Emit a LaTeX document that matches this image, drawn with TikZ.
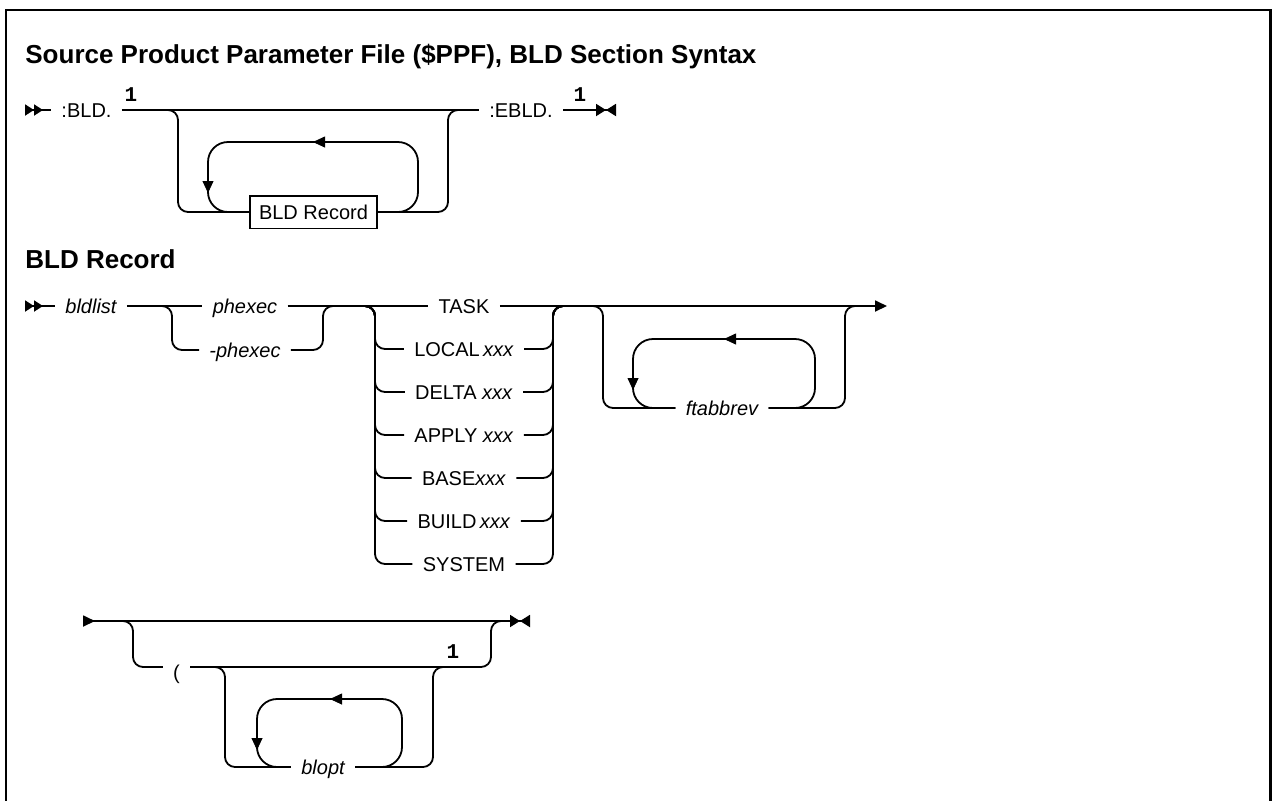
\documentclass[tikz,border=0pt]{standalone}
\usepackage{fontspec}
\setmainfont{Liberation Sans}
\setmonofont{Liberation Mono}
\usetikzlibrary{arrows.meta, positioning}

\tikzset{
    rail/.style={line width=0.9pt, rounded corners=5pt},
    loopline/.style={line width=0.9pt, rounded corners=10pt},
    kw/.style={font=\fontsize{10}{12}\selectfont, inner xsep=5pt, inner ysep=0pt, text height=7.2pt, text depth=0pt},
    var/.style={kw, font=\fontsize{10}{12}\selectfont\itshape},
    boxed/.style={kw, draw, line width=0.9pt, inner xsep=4.5pt, inner ysep=4.6pt},
    note/.style={font=\ttfamily\bfseries\fontsize{10.5}{12}\selectfont, inner sep=0pt},
    heading/.style={font=\bfseries\fontsize{13}{15}\selectfont, inner sep=0pt, anchor=base west},
    tip/.style={-{Triangle[length=6pt, width=5.5pt]}},
    dbl/.style={{Triangle[reversed, length=4.5pt, width=5.5pt]Triangle[reversed, length=4.5pt, width=5.5pt]}-},
    endmark/.style={-{Triangle[length=5pt, width=6pt]Triangle[reversed, length=5pt, width=6pt]}},
    fragment/.style={{Triangle[reversed, length=6pt, width=5.5pt]}-{Triangle[length=5pt, width=6pt]Triangle[reversed, length=5pt, width=6pt]}}
}

\begin{document}
\begin{tikzpicture}[x=0.5pt, y=-0.5pt, node distance=21.5pt, on grid]

    \useasboundingbox (0,0) rectangle (1273,800);
    \draw[line width=1.1pt] (6,10) rectangle (1270.5,830);

    % Section syntax
    \node[heading] (title) at (25,63) {Source Product Parameter File (\$PPF), BLD Section Syntax};

    \node[kw] (bld) at (86.5,110) {:BLD.};
    \node[kw] (ebld) at (521,110) {:EBLD.};
    \node[boxed] (rec) at (313.5,212) {BLD Record};
    \node[note] (n1) at (131,95) {1};
    \node[note] (n2) at (580,95) {1};

    \draw[rail, dbl] (25,110) -- (bld.west);
    \draw[rail] (bld.east) -- (ebld.west);
    \draw[rail, endmark] (ebld.east) -- (616,110);
    \draw[rail] (168,110) -- (178,110) |- (rec.west);
    \draw[rail] (rec.east) -| (448,110) -- (458,110);
    \draw[loopline] (rec.east) -| (418,142) -- (208,142) |- (rec.west);
    \draw[tip] (325,142) -- (313,142);
    \draw[tip] (208,181) -- (208,193);

    % BLD Record
    \node[heading] (rectitle) at (25,268) {BLD Record};

    \node[var] (bldlist) at (91,306) {bldlist};
    \node[var] (phexec) at (245,306) {phexec};
    \node[var, below=22pt of phexec] (nphexec) {-phexec};
    \draw[rail, dbl] (25,306) -- (bldlist.west);
    \draw[rail] (bldlist.east) -- (phexec.west);
    \draw[rail] (162,306) -- (172,306) |- (nphexec.west);
    \draw[rail] (nphexec.east) -| (323,306) -- (333,306);

    \node[kw] (task) at (464,306) {TASK};
    \node[kw, below=of task] (local) {LOCAL\,\textit{xxx}};
    \node[kw, below=of local] (delta) {DELTA \textit{xxx}};
    \node[kw, below=of delta] (apply) {APPLY \textit{xxx}};
    \node[kw, below=of apply] (base) {BASE\textit{xxx}};
    \node[kw, below=of base] (build) {BUILD\,\textit{xxx}};
    \node[kw, below=of build] (system) {SYSTEM};
    \draw[rail] (phexec.east) -- (task.west);
    \foreach \opt in {local,delta,apply,base,build,system} {
        \draw[rail] (365,306) -- (375,306) |- (\opt.west);
        \draw[rail] (\opt.east) -| (553,306) -- (563,306);
    }

    \node[var] (ftab) at (722,408) {ftabbrev};
    \draw[rail, tip] (task.east) -- (887,306);
    \draw[rail] (593,306) -- (603,306) |- (ftab.west);
    \draw[rail] (ftab.east) -| (845,306) -- (855,306);
    \draw[loopline] (ftab.east) -| (815,339) -- (633,339) |- (ftab.west);
    \draw[tip] (736,339) -- (724,339);
    \draw[tip] (633,378) -- (633,390);

    % options
    \node[kw] (paren) at (176.5,667) {\raisebox{-2.5pt}{(}};
    \node[note] (n3) at (453,652) {1};
    \node[var] (blopt) at (323,767) {blopt};
    \draw[rail, fragment] (83,621) -- (530,621);
    \draw[rail] (123,621) -- (133,621) |- (paren.west);
    \draw[rail] (paren.east) -| (491,621) -- (501,621);
    \draw[rail] (215,667) -- (225,667) |- (blopt.west);
    \draw[rail] (blopt.east) -| (433,667) -- (443,667);
    \draw[loopline] (blopt.east) -| (402,699) -- (257,699) |- (blopt.west);
    \draw[tip] (342,699) -- (330,699);
    \draw[tip] (257,738) -- (257,750);

\end{tikzpicture}
\end{document}
